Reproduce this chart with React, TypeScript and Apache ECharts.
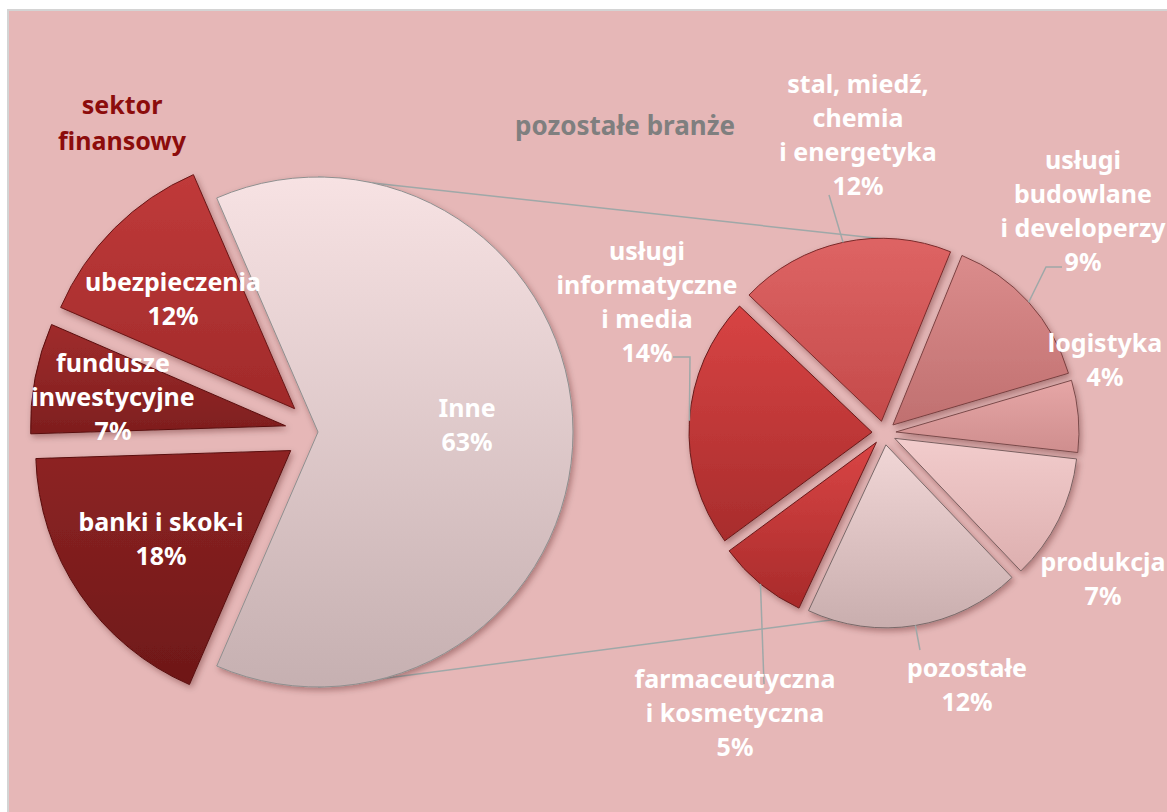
import React, { useEffect, useRef } from "react";
import * as echarts from "echarts";

// ---- data ----
const leftNames = ["Inne", "banki i skok-i", "fundusze\ninwestycyjne", "ubezpieczenia"];
const leftValues = [63, 18, 7, 12];
const rightNames = [
  "stal, miedź,\nchemia\ni energetyka",
  "usługi\nbudowlane\ni developerzy",
  "logistyka",
  "produkcja",
  "pozostałe",
  "farmaceutyczna\ni kosmetyczna",
  "usługi\ninformatyczne\ni media",
];
const rightValues = [12, 9, 4, 7, 12, 5, 14];

// ---- layout / style ----
const L = { cx: 318, cy: 432, r: 255, off: 33, start: 113.4 };
const R = { cx: 884, cy: 433, r: 183, off: 12, start: 136.4 };
const BG = "#E6B7B7";
const FONT = "'Noto Sans', 'DejaVu Sans', sans-serif";
const LINE = "#9FA8A8";

const grad = (a: string, b: string) => ({
  type: "linear", x: 0, y: 0, x2: 0, y2: 1,
  colorStops: [{ offset: 0, color: a }, { offset: 1, color: b }],
});

const leftColors = [
  ["#F7E2E3", "#C6B0B1"],
  ["#8E2424", "#6E1818"],
  ["#A02C2C", "#7E1E1E"],
  ["#C03A3A", "#A02A2A"],
];
const leftBorders = ["#8F8F8F", "#5A1010", "#5A1010", "#6A1515"];
const rightColors = [
  ["#DE6464", "#C44A4A"],
  ["#DB8C8C", "#C07070"],
  ["#E6A6A6", "#CF8E8E"],
  ["#F2CCCC", "#DDAFAF"],
  ["#F1D6D6", "#C9AEAE"],
  ["#D94545", "#A82A2A"],
  ["#D84444", "#A82C2C"],
];
const rightBorders = ["#7A2A2A", "#7A4040", "#7A4A4A", "#7A6060", "#7A6A6A", "#6A1A1A", "#6A1A1A"];

// label centers (text layout)
const leftLabelPos = [
  { x: 467, y: 424 },
  { x: 161, y: 538 },
  { x: 113, y: 396 },
  { x: 173, y: 298 },
];
const rightLabelPos: any[] = [
  { x: 858, y: 134, line: [[829, 195], [829, 195]] },
  { x: 1083, y: 210, line: [[1046, 267], [1062, 267]] },
  { x: 1105, y: 359, line: null },
  { x: 1103, y: 578, line: null },
  { x: 967, y: 684, line: [[920, 650], [920, 650]] },
  { x: 735, y: 712, line: [[764, 684], [764, 684]] },
  { x: 647, y: 301, line: [[690, 357], [673, 357]] },
];

export default function App() {
  const ref = useRef<HTMLDivElement>(null);
  useEffect(() => {
    if (!ref.current) return;
    const chart = echarts.init(ref.current, null, { renderer: "svg" });
    const shadow = {
      shadowBlur: 6,
      shadowColor: "rgba(60,0,0,0.35)",
      shadowOffsetX: 2,
      shadowOffsetY: 3,
    };
    const clear = { color: "rgba(0,0,0,0)", borderWidth: 0 };
    const labelBase = {
      show: true,
      color: "#FFFFFF",
      fontFamily: FONT,
      fontWeight: "bold",
      fontSize: 25,
      lineHeight: 34,
      align: "center",
      overflow: "none",
      formatter: "{b}\n{c}%",
    };
    const option: any = {
      animation: false,
      graphic: [
        {
          type: "rect",
          z: -10,
          shape: { x: 8, y: 10, width: 1170, height: 810 },
          style: { fill: BG, stroke: "#D4D4D4", lineWidth: 2 },
          silent: true,
        },
        {
          type: "line",
          z: -5,
          shape: { x1: L.cx, y1: L.cy - L.r, x2: R.cx, y2: R.cy - R.r - R.off + 1 },
          style: { stroke: LINE, lineWidth: 1.5 },
          silent: true,
        },
        {
          type: "line",
          z: -5,
          shape: { x1: L.cx, y1: L.cy + L.r, x2: R.cx + 16, y2: R.cy + R.r + R.off - 17 },
          style: { stroke: LINE, lineWidth: 1.5 },
          silent: true,
        },
        {
          type: "text",
          x: 122,
          y: 122,
          style: {
            text: "sektor\nfinansowy",
            fill: "#8C0C0C",
            font: `bold 25px ${FONT}`,
            lineHeight: 36,
            align: "center",
            verticalAlign: "middle",
          },
        },
        {
          type: "text",
          x: 625,
          y: 125,
          style: {
            text: "pozostałe branże",
            fill: "#7F7F7F",
            font: `bold 26px ${FONT}`,
            align: "center",
            verticalAlign: "middle",
          },
        },
      ],
      series: [
        // left pie: sectors
        {
          type: "pie",
          center: [L.cx, L.cy],
          radius: [0, L.r],
          startAngle: L.start,
          clockwise: true,
          selectedMode: "multiple",
          selectedOffset: L.off,
          silent: true,
          emphasis: { disabled: true },
          label: { show: false },
          labelLine: { show: false },
          data: leftNames.map((n, i) => ({
            name: n,
            value: leftValues[i],
            selected: i > 0,
            itemStyle: {
              color: grad(leftColors[i][0], leftColors[i][1]),
              borderColor: leftBorders[i],
              borderWidth: 1,
              ...shadow,
            },
          })),
        },
        // left pie: labels
        {
          type: "pie",
          z: 3,
          center: [L.cx, L.cy],
          radius: [0, L.r],
          startAngle: L.start,
          clockwise: true,
          silent: true,
          emphasis: { disabled: true },
          itemStyle: clear,
          label: { ...labelBase, position: "inside" },
          labelLine: { show: false },
          labelLayout: (p: any) => ({
            x: leftLabelPos[p.dataIndex].x,
            y: leftLabelPos[p.dataIndex].y,
            align: "center",
            verticalAlign: "middle",
          }),
          data: leftNames.map((n, i) => ({ name: n, value: leftValues[i] })),
        },
        // right pie: sectors
        {
          type: "pie",
          center: [R.cx, R.cy],
          radius: [0, R.r],
          startAngle: R.start,
          clockwise: true,
          selectedMode: "multiple",
          selectedOffset: R.off,
          silent: true,
          emphasis: { disabled: true },
          label: { show: false },
          labelLine: { show: false },
          data: rightNames.map((n, i) => ({
            name: n,
            value: rightValues[i],
            selected: true,
            itemStyle: {
              color: grad(rightColors[i][0], rightColors[i][1]),
              borderColor: rightBorders[i],
              borderWidth: 1,
              ...shadow,
            },
          })),
        },
        // right pie: labels
        {
          type: "pie",
          z: 3,
          center: [R.cx, R.cy],
          radius: [0, R.r],
          startAngle: R.start,
          clockwise: true,
          silent: true,
          emphasis: { disabled: true },
          itemStyle: clear,
          label: { ...labelBase, position: "outside" },
          labelLine: {
            show: true,
            length: 10,
            length2: 10,
            lineStyle: { color: LINE, width: 1.5 },
          },
          labelLayout: (p: any) => {
            const pos = rightLabelPos[p.dataIndex];
            const res: any = { x: pos.x, y: pos.y, align: "center", verticalAlign: "middle" };
            if (p.labelLinePoints) {
              const q = p.labelLinePoints[0];
              const k = (R.r + R.off) / R.r;
              const p0 = [R.cx + (q[0] - R.cx) * k, R.cy + (q[1] - R.cy) * k];
              res.labelLinePoints = pos.line ? [p0, pos.line[0], pos.line[1]] : [p0, p0, p0];
            }
            return res;
          },
          data: rightNames.map((n, i) => ({
            name: n,
            value: rightValues[i],
            labelLine: { show: !!rightLabelPos[i].line },
          })),
        },
      ],
    };
    chart.setOption(option);
    return () => chart.dispose();
  }, []);
  return (
    <div
      ref={ref}
      style={{ position: "fixed", left: 0, top: 0, width: 1167, height: 812, background: "#FFFFFF" }}
    />
  );
}
